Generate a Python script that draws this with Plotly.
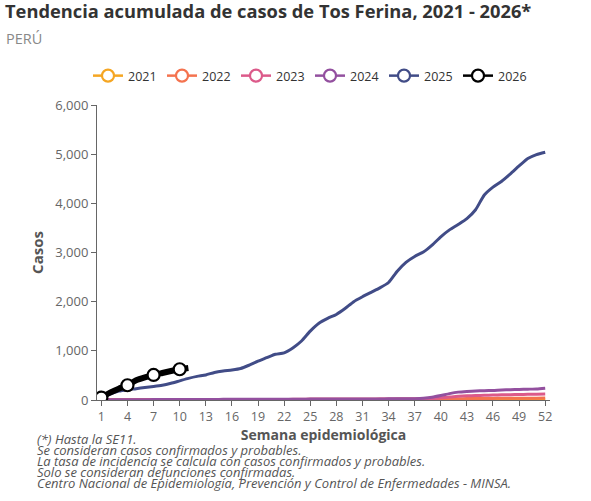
import plotly.graph_objects as go

weeks = list(range(1, 53))
weeks_2026 = list(range(1, 12))

c2021 = [0,0,0,1,1,1,1,1,1,1,1,1,2,2,2,2,2,2,2,2,2,2,2,2,3,3,3,3,3,3,3,3,3,3,3,3,3,4,4,4,4,4,4,4,5,5,5,5,5,5,5,5]
c2022 = [1,1,2,2,3,3,4,4,5,5,6,6,7,7,8,8,9,9,10,10,11,11,12,12,13,13,14,14,15,15,16,16,17,17,18,18,19,20,21,22,24,26,28,30,32,33,34,35,36,37,38,40]
c2023 = [1,2,3,3,4,4,5,5,6,6,7,7,8,8,9,9,10,10,11,11,12,12,13,13,14,14,15,15,16,16,17,17,18,18,19,19,20,25,30,45,60,75,85,90,95,100,105,108,112,115,118,122]
c2024 = [2,3,4,5,6,7,8,9,10,10,11,11,12,12,13,13,14,14,15,15,16,16,17,17,18,18,19,19,20,20,21,21,22,23,24,25,27,35,55,90,130,160,175,185,190,195,205,210,215,220,225,240]
c2025 = [60,120,180,210,230,255,275,300,340,390,440,480,510,560,590,610,640,710,790,860,930,960,1060,1200,1400,1560,1660,1740,1860,2000,2100,2190,2280,2390,2620,2800,2920,3010,3150,3320,3460,3570,3690,3870,4170,4330,4450,4600,4760,4910,4990,5040]
c2026 = [50,150,230,300,400,460,510,550,590,625,650]

series = [
    ("2021", weeks, c2021, "#f5a623", 3),
    ("2022", weeks, c2022, "#f4734f", 3),
    ("2023", weeks, c2023, "#dc5a8a", 3),
    ("2024", weeks, c2024, "#93509f", 3),
    ("2025", weeks, c2025, "#414c87", 3),
    ("2026", weeks_2026, c2026, "#000000", 6),
]

x_ticks = list(range(1, 53, 3))

footnotes = [
    "(*) Hasta la SE11.",
    "Se consideran casos confirmados y probables.",
    "La tasa de incidencia se calcula con casos confirmados y probables.",
    "Solo se consideran defunciones confirmadas.",
    "Centro Nacional de Epidemiología, Prevención y Control de Enfermedades - MINSA.",
]

fig = go.Figure()
for name, xs, ys, color, lw in series:
    fig.add_trace(go.Scatter(
        x=xs, y=ys, name=name, mode="lines", showlegend=False, legendgroup=name,
        line=dict(color=color, width=lw, shape="spline", smoothing=0.6),
    ))
    if name == "2026":
        mx = [w for w in xs if (w - 1) % 3 == 0]
        my = [v for w, v in zip(xs, ys) if (w - 1) % 3 == 0]
        fig.add_trace(go.Scatter(
            x=mx, y=my, mode="markers", showlegend=False, legendgroup=name,
            marker=dict(size=12, color="white", line=dict(color=color, width=2.2)),
        ))
    # legend entry
    fig.add_trace(go.Scatter(
        x=[None], y=[None], name=name, mode="lines+markers", legendgroup=name,
        line=dict(color=color, width=2.5),
        marker=dict(size=12, color="white", line=dict(color=color, width=2.2)),
    ))

annotations = [
    dict(text="PERÚ", xref="paper", yref="paper",
         x=-93/453, y=(400-38)/295, xanchor="left", yanchor="middle",
         showarrow=False, font=dict(size=14.5, color="#888")),
]
for i, line in enumerate(footnotes):
    annotations.append(dict(
        text="<i>" + line + "</i>", xref="paper", yref="paper",
        x=-62/453, y=-(438.5 + 11 * i - 400)/295,
        xanchor="left", yanchor="middle", align="left", showarrow=False,
        font=dict(size=13, color="#555"),
    ))

fig.update_layout(
    width=591, height=501,
    paper_bgcolor="white", plot_bgcolor="white",
    margin=dict(l=97, r=41, t=105, b=101),
    font=dict(family="Open Sans, sans-serif", color="#666"),
    title=dict(
        text="<b>Tendencia acumulada de casos de Tos Ferina, 2021 - 2026*</b>",
        x=5/591, xanchor="left", xref="container",
        y=1 - 5/501, yanchor="top", yref="container",
        font=dict(size=18.3, color="#333", family="Open Sans, sans-serif"),
    ),
    legend=dict(
        orientation="h", x=-9/453, xanchor="left", y=(400-76)/295, yanchor="middle",
        font=dict(size=12.5, color="#333"),
        entrywidth=29, entrywidthmode="pixels", itemwidth=30,
    ),
    xaxis=dict(
        range=[0.5, 52.55], tickvals=x_ticks, ticktext=[str(t) for t in x_ticks],
        showgrid=False, zeroline=False, showline=True, linecolor="#666", linewidth=1,
        ticks="outside", ticklen=5, tickcolor="#666",
        tickfont=dict(size=12.5, color="#666"),
        title=dict(text="<b>Semana epidemiológica</b>", font=dict(size=14, color="#555"), standoff=1),
    ),
    yaxis=dict(
        range=[0, 6000], dtick=1000, tickformat=",",
        showgrid=False, zeroline=False, showline=True, linecolor="#666", linewidth=1,
        ticks="outside", ticklen=5, tickcolor="#666",
        tickfont=dict(size=13, color="#666"),
        title=dict(text="<b>Casos</b>", font=dict(size=15, color="#555"), standoff=8),
    ),
    annotations=annotations,
)

fig.write_html("out.html", config={"displayModeBar": False},
               post_script="document.body.style.margin='0';")
